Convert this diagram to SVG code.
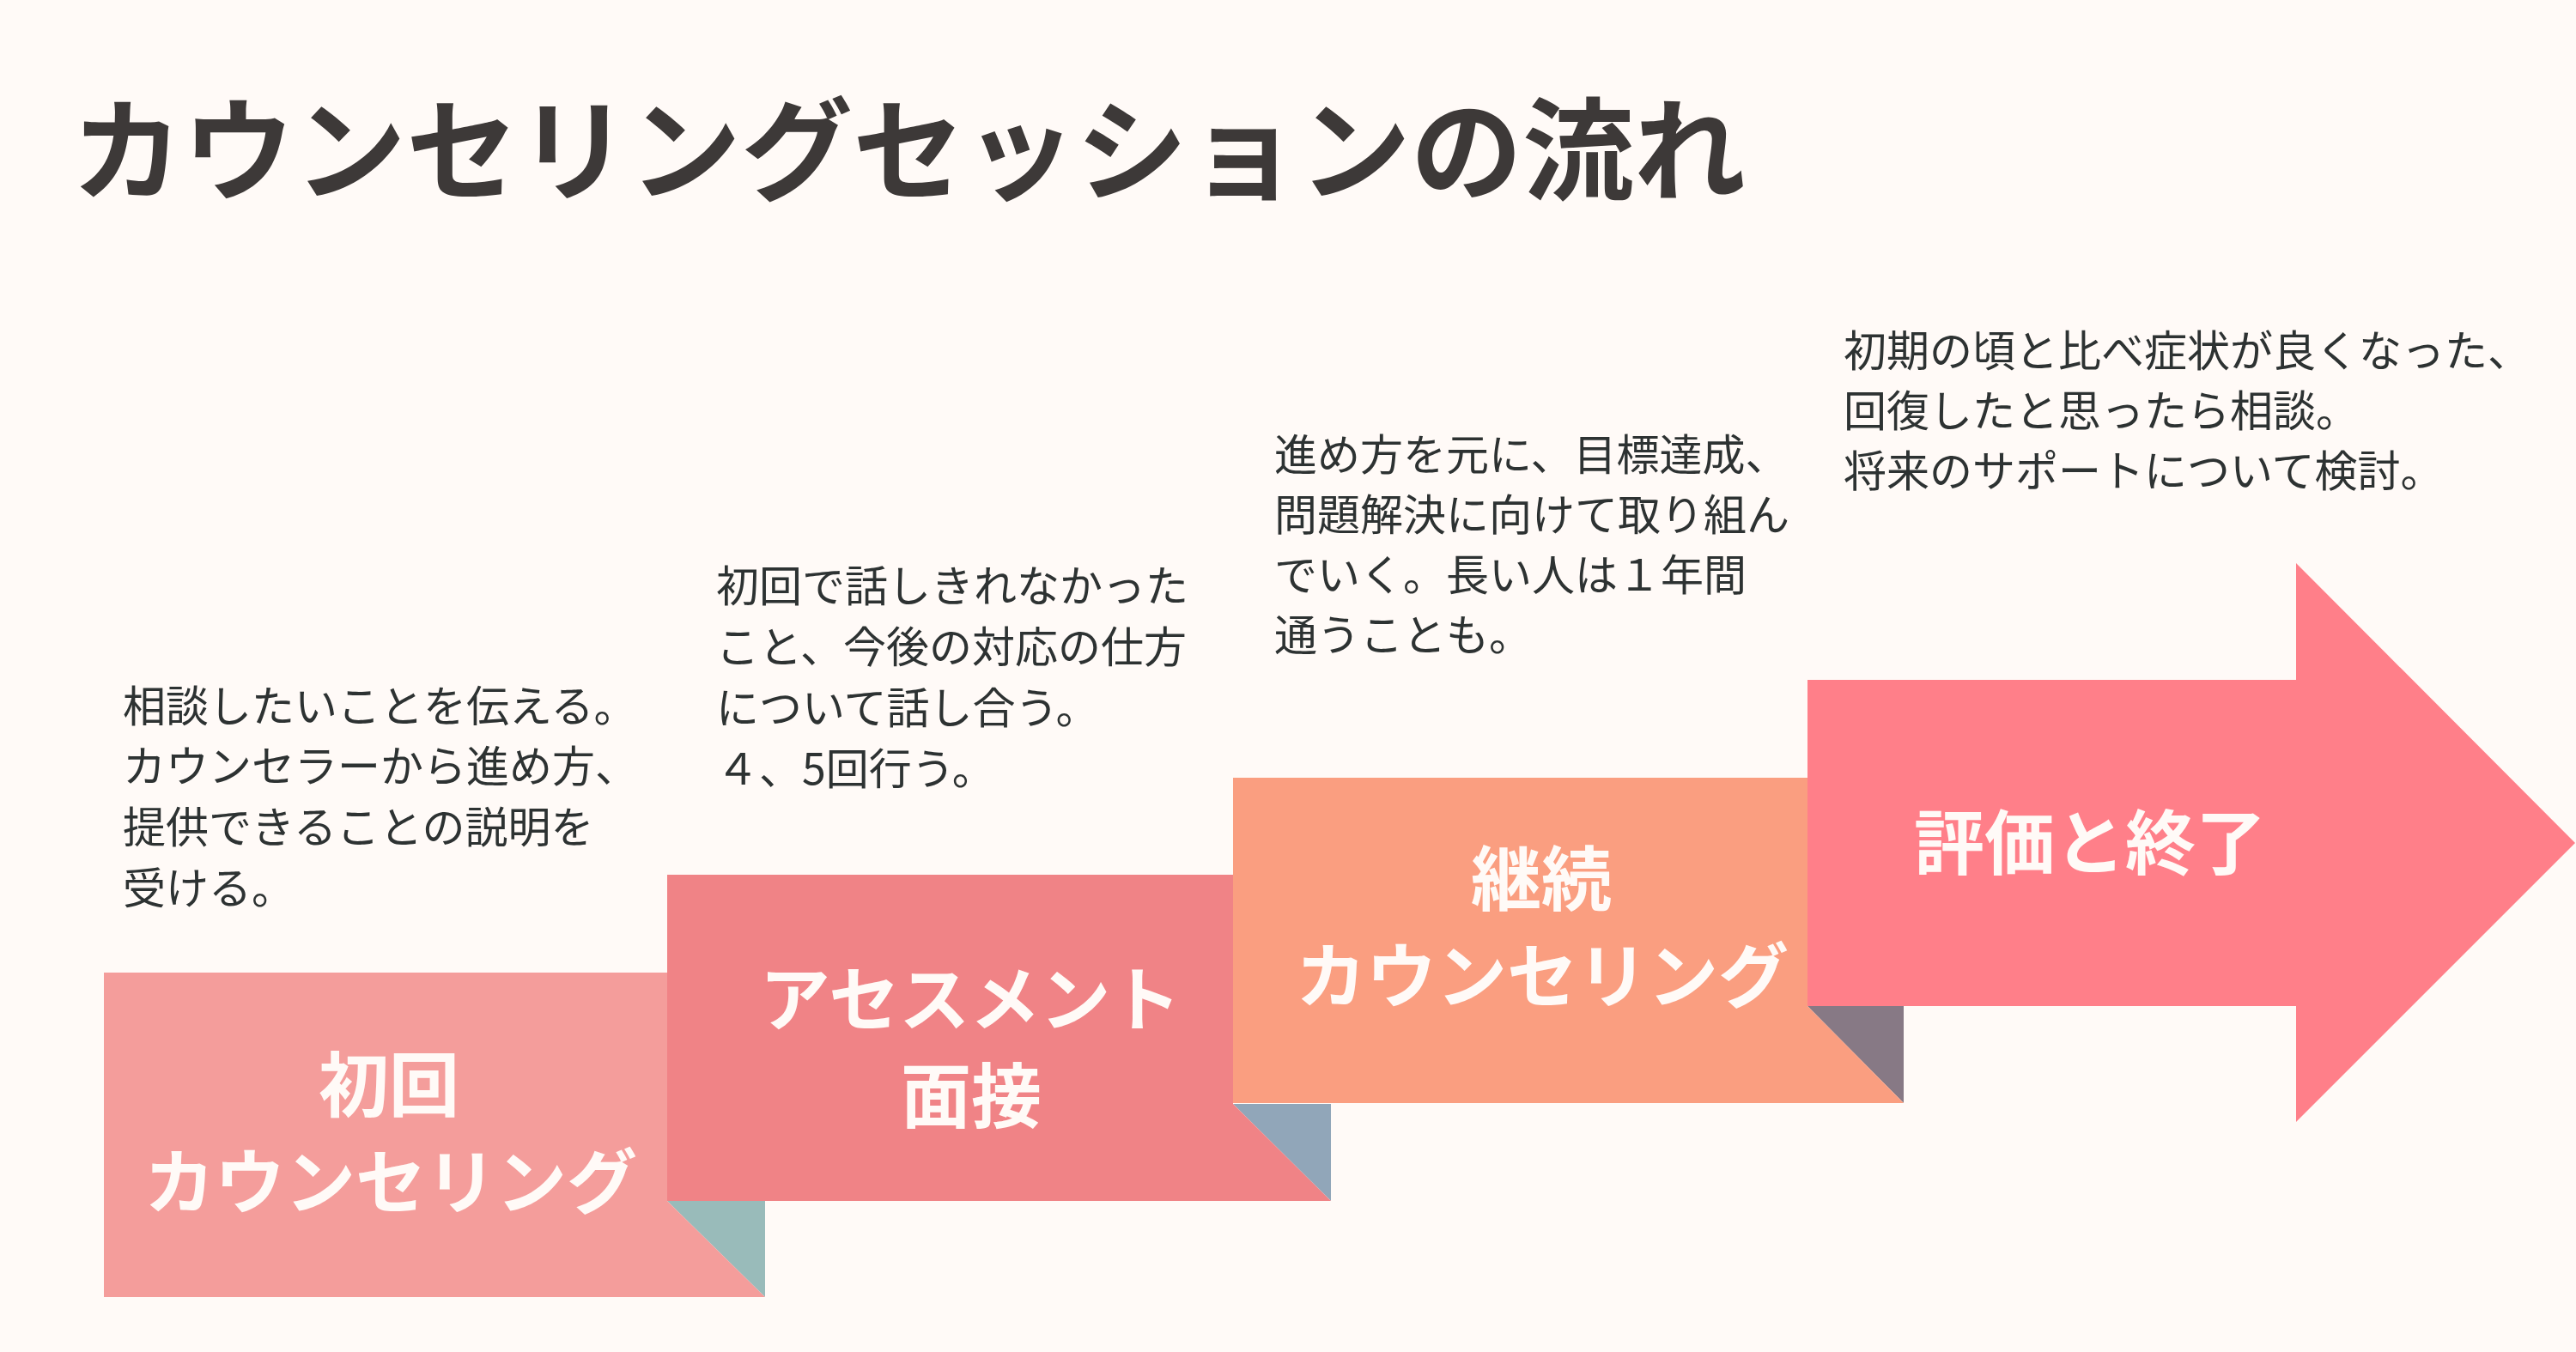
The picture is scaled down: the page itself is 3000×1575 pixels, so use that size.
<svg xmlns="http://www.w3.org/2000/svg" width="3000" height="1575" viewBox="0 0 3000 1575">
  <style>
    .title { font-family: "Noto Sans CJK JP", "Noto Sans", sans-serif; font-weight: 700; font-size: 130px; fill: #3d3938; }
    .label { font-family: "Noto Sans CJK JP", "Noto Sans", sans-serif; font-weight: 700; font-size: 82px; fill: #fffaf7; text-anchor: middle; }
    .desc { font-family: "Noto Sans CJK JP", "Noto Sans", sans-serif; font-weight: 400; font-size: 50px; fill: #2d3232; }
  </style>
  <rect x="0" y="0" width="3000" height="1575" fill="#fffaf7"/>
  <text class="title" x="83" y="223">カウンセリングセッションの流れ</text>

  <g id="step1">
    <polygon points="777,1399 891,1399 891,1511" fill="#99bbba"/>
    <polygon points="121,1133 777,1133 777,1399 891,1511 121,1511" fill="#f49d9b"/>
    <text class="label"><tspan x="453" y="1294">初回</tspan><tspan x="455" y="1407">カウンセリング</tspan></text>
    <text class="desc"><tspan x="143" y="841">相談したいことを伝える。</tspan><tspan x="143" y="911">カウンセラーから進め方、</tspan><tspan x="143" y="982">提供できることの説明を</tspan><tspan x="143" y="1053">受ける。</tspan></text>
  </g>

  <g id="step2">
    <polygon points="1436,1286 1550,1286 1550,1399" fill="#91a6b9"/>
    <polygon points="777,1019 1436,1019 1436,1286 1550,1399 777,1399" fill="#f08386"/>
    <text class="label"><tspan x="1130" y="1194">アセスメント</tspan><tspan x="1131" y="1307">面接</tspan></text>
    <text class="desc"><tspan x="834" y="701">初回で話しきれなかった</tspan><tspan x="834" y="772">こと、今後の対応の仕方</tspan><tspan x="834" y="843">について話し合う。</tspan><tspan x="834" y="914">４、5回行う。</tspan></text>
  </g>

  <g id="step3">
    <polygon points="2105,1172 2217,1172 2217,1285" fill="#877985"/>
    <polygon points="1436,906 2105,906 2105,1172 2217,1285 1436,1285" fill="#fa9e80"/>
    <text class="label"><tspan x="1795" y="1054">継続</tspan><tspan x="1796" y="1167">カウンセリング</tspan></text>
    <text class="desc"><tspan x="1484" y="548">進め方を元に、目標達成、</tspan><tspan x="1484" y="618">問題解決に向けて取り組ん</tspan><tspan x="1484" y="688">でいく。長い人は１年間</tspan><tspan x="1484" y="758">通うことも。</tspan></text>
  </g>

  <g id="step4">
    <polygon points="2105,792 2674,792 2674,656 2999,982 2674,1307 2674,1172 2105,1172" fill="#ff7f89"/>
    <text class="label" x="2434" y="1012">評価と終了</text>
    <text class="desc"><tspan x="2147" y="427">初期の頃と比べ症状が良くなった、</tspan><tspan x="2147" y="497">回復したと思ったら相談。</tspan><tspan x="2147" y="567">将来のサポートについて検討。</tspan></text>
  </g>

  <g id="connectors"/>
</svg>
